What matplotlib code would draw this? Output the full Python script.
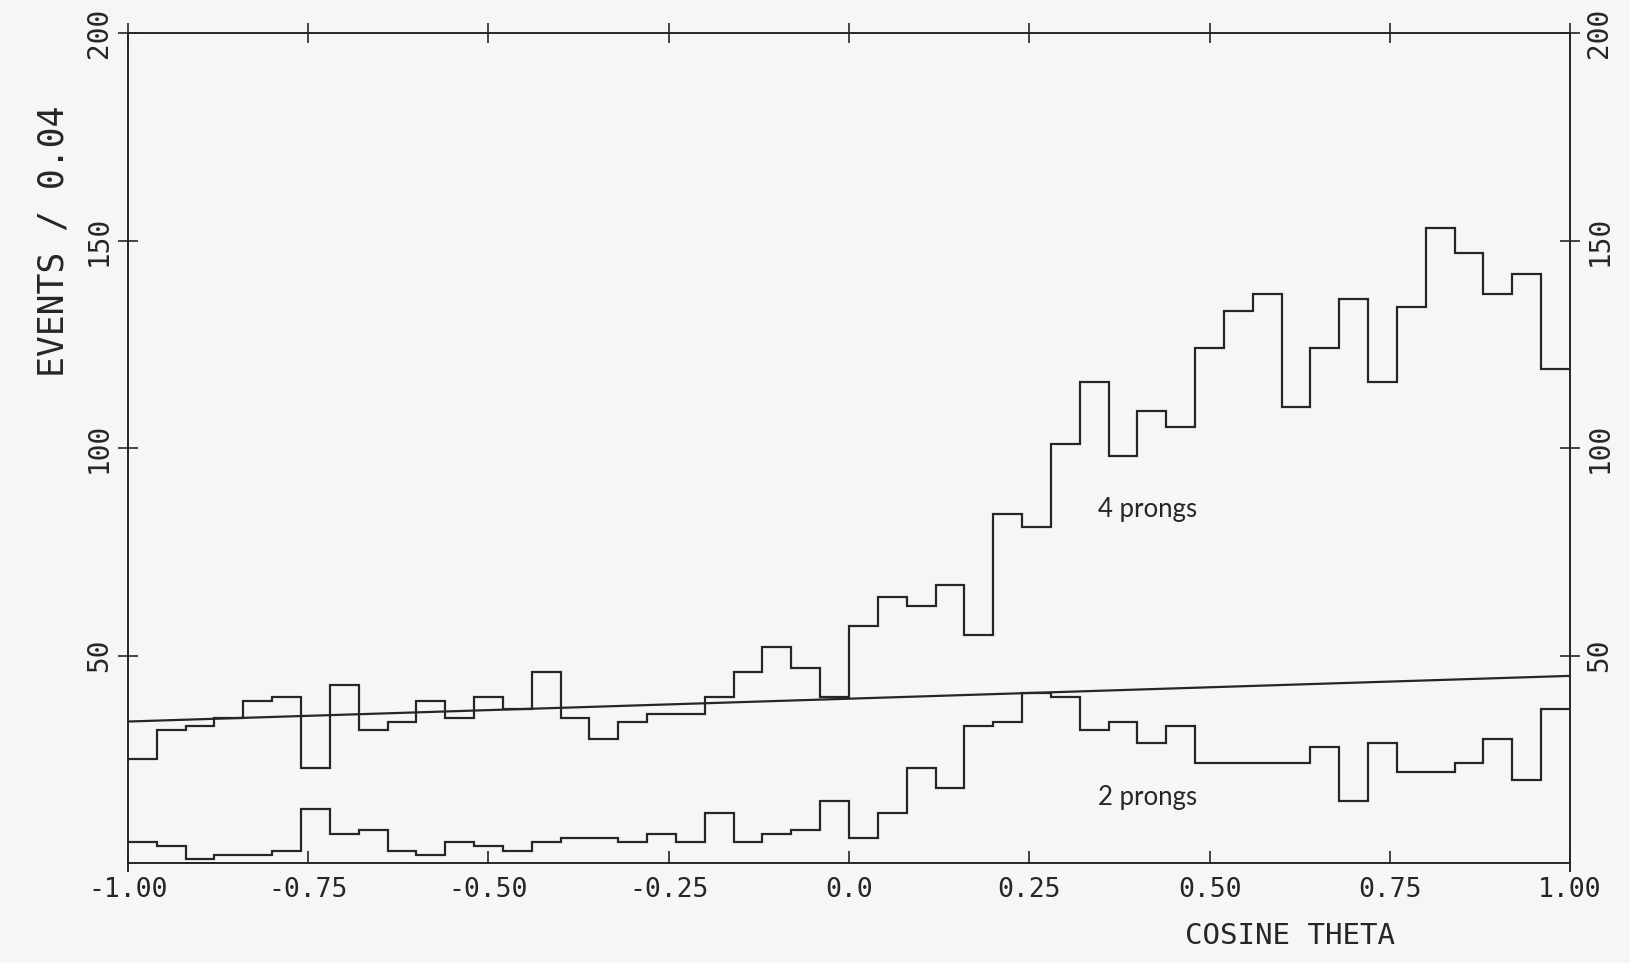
import numpy as np
import matplotlib
matplotlib.use("Agg")
import matplotlib.pyplot as plt

# Angular distribution, 50 bins of width 0.04 in cos(theta)
bin_edges = np.linspace(-1.0, 1.0, 51)

four_prong = [25, 32, 33, 35, 39, 40, 23, 43, 32, 34,
              39, 35, 40, 37, 46, 35, 30, 34, 36, 36,
              40, 46, 52, 47, 40, 57, 64, 62, 67, 55,
              84, 81, 101, 116, 98, 109, 105, 124, 133, 137,
              110, 124, 136, 116, 134, 153, 147, 137, 142, 119]

two_prong = [5, 4, 1, 2, 2, 3, 13, 7, 8, 3,
             2, 5, 4, 3, 5, 6, 6, 5, 7, 5,
             12, 5, 7, 8, 15, 6, 12, 23, 18, 33,
             34, 41, 40, 32, 34, 29, 33, 24, 24, 24,
             24, 28, 15, 29, 22, 22, 24, 30, 20, 37]

# Straight-line fit: events = intercept + slope * cos(theta)
fit_intercept = 39.6
fit_slope = 5.5

x_ticks = [-1.0, -0.75, -0.5, -0.25, 0.0, 0.25, 0.5, 0.75, 1.0]
x_tick_labels = ["-1.00", "-0.75", "-0.50", "-0.25", "0.0", "0.25", "0.50", "0.75", "1.00"]
y_ticks = [50, 100, 150, 200]
y_tick_labels = ["50", "100", "150", "200"]

ink = "#262626"
paper = "#f6f6f4"
mono = "DejaVu Sans Mono"

fig = plt.figure(figsize=(16.30, 9.63), dpi=100, facecolor=paper)
ax = fig.add_axes([0.0785, 0.1038, 0.8847, 0.8619], facecolor=paper)

ax.stairs(four_prong, bin_edges, baseline=None, color=ink, lw=1.6)
ax.stairs(two_prong, bin_edges, baseline=None, color=ink, lw=1.6)

fx = np.array([-1.0, 1.0])
ax.plot(fx, fit_intercept + fit_slope * fx, color=ink, lw=1.6)

ax.set_xlim(-1.0, 1.0)
ax.set_ylim(0, 200)

for side in ["left", "right", "top", "bottom"]:
    ax.spines[side].set_color(ink)
    ax.spines[side].set_linewidth(1.4)
ax.spines["left"].set_bounds(-2.0, 200)
ax.spines["right"].set_bounds(-2.0, 200)

ax.set_xticks(x_ticks)
ax.set_xticklabels(x_tick_labels, fontfamily=mono, fontsize=19)
ax.set_yticks(y_ticks)
ax.set_yticklabels(y_tick_labels, fontfamily=mono, fontsize=20)

ax.tick_params(axis="x", which="major", bottom=True, top=True, direction="in",
               length=9, width=1.2, color=ink, labelcolor=ink, pad=10)
# top ticks cross the frame
for t in ax.xaxis.get_major_ticks():
    t.tick2line.set_marker("|")
    t.tick2line.set_markersize(14)
ax.tick_params(axis="y", which="major", left=True, right=True, direction="inout",
               length=14, width=1.2, color=ink, labelcolor=ink,
               labelleft=True, labelright=True, labelrotation=90, pad=4)
for lab in ax.get_yticklabels():
    lab.set_va("center")

ax.text(-0.0513, 0.749, "EVENTS / 0.04", transform=ax.transAxes, rotation=90,
        ha="center", va="center", fontfamily=mono, fontsize=25, color=ink)
ax.text(0.806, -0.088, "COSINE THETA", transform=ax.transAxes,
        ha="center", va="center", fontfamily=mono, fontsize=21, color=ink)

ax.text(0.346, 85.3, "4 prongs", ha="left", va="center",
        fontfamily="Lato", fontsize=18.5, color=ink)
ax.text(0.346, 15.7, "2 prongs", ha="left", va="center",
        fontfamily="Lato", fontsize=18.5, color=ink)

fig.savefig("out.png", dpi=100, facecolor=paper)
